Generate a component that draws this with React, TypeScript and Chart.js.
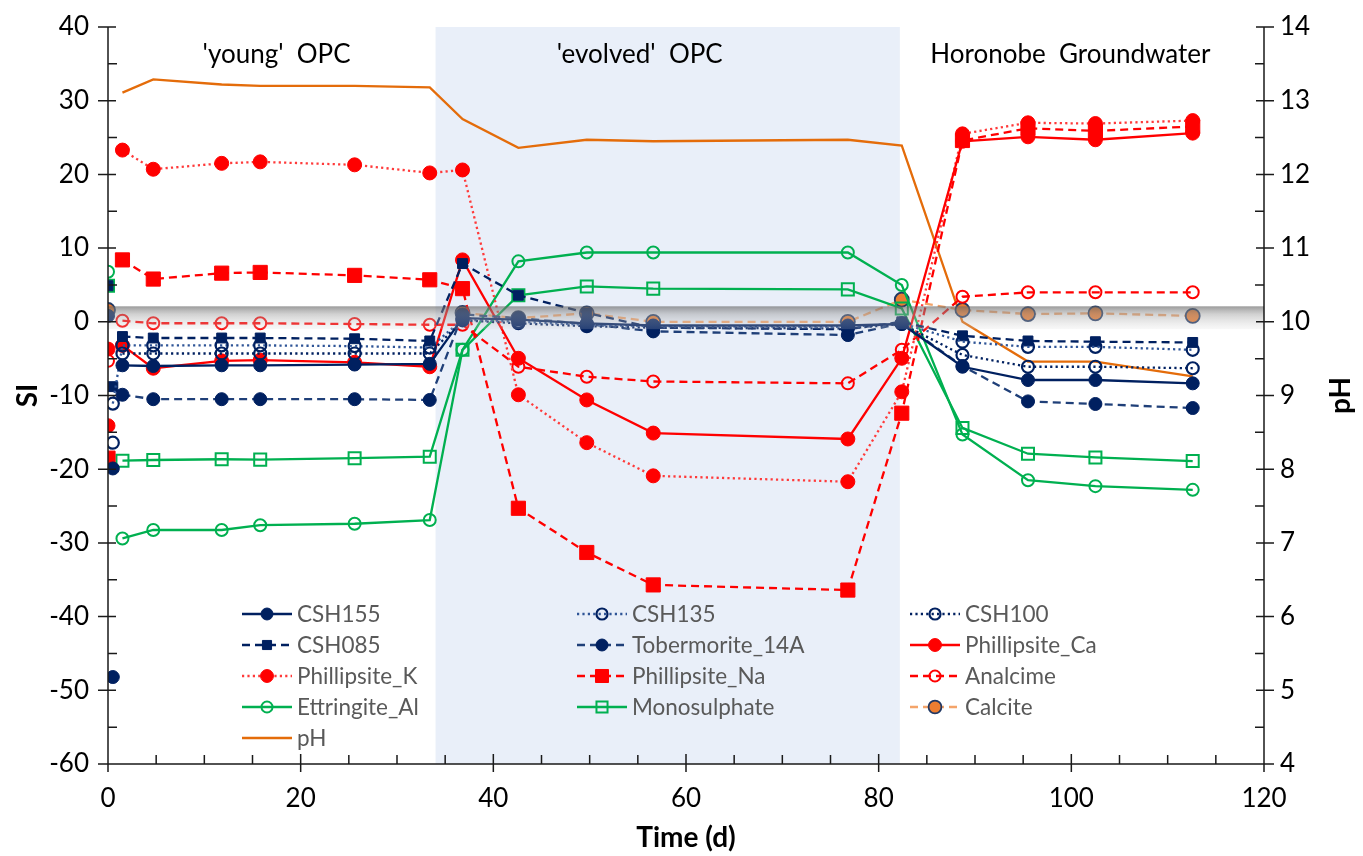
import React, { useEffect, useRef } from 'react';
import { Chart, registerables } from 'chart.js';

Chart.register(...registerables);

const FONT = 'Lato, "Open Sans", sans-serif';

// sampling times (days)
const times = [0, 0.5, 1.5, 4.7, 11.8, 15.8, 25.6, 33.4, 36.8, 42.6, 49.7, 56.6, 76.8, 82.4, 88.7, 95.5, 102.5, 112.6];

// saturation indices (SI)
const csh155 = [null, -19.9, -5.9, -6.0, -5.9, -5.9, -5.8, -5.7, 0.5, 0.3, -0.2, -0.5, -0.5, -0.3, -6.1, -7.9, -7.9, -8.35];
const csh135 = [null, -11.1, -3.2, -3.2, -3.2, -3.2, -3.3, -3.5, 0.3, 0.0, -0.4, -0.6, -0.7, -0.2, -2.7, -3.4, -3.4, -3.8];
const csh100 = [null, -16.4, -4.3, -4.3, -4.3, -4.3, -4.3, -4.3, 0.2, -0.2, -0.6, -0.8, -0.9, -0.3, -4.5, -6.1, -6.1, -6.3];
const csh085 = [4.9, -8.8, -2.0, -2.2, -2.2, -2.2, -2.3, -2.6, 7.9, 3.6, 1.2, -0.8, -1.0, 0.0, -1.9, -2.6, -2.7, -2.8];
const tobermorite14A = [0.8, -48.2, -9.9, -10.5, -10.5, -10.5, -10.5, -10.6, 1.0, 0.5, -0.3, -1.3, -1.8, -0.2, -6.0, -10.8, -11.15, -11.7];
const phillipsiteCa = [-3.7, null, -3.2, -6.3, -5.3, -5.2, -5.5, -6.1, 8.4, -4.95, -10.6, -15.1, -15.9, -4.95, 24.5, 25.1, 24.7, 25.6];
const phillipsiteK = [-14.1, null, 23.3, 20.7, 21.5, 21.7, 21.3, 20.2, 20.6, -9.9, -16.4, -20.9, -21.7, -9.5, 25.5, 27.0, 26.9, 27.3];
const phillipsiteNa = [-18.5, null, 8.4, 5.8, 6.6, 6.7, 6.3, 5.7, 4.5, -25.3, -31.3, -35.7, -36.4, -12.4, 24.6, 26.25, 25.9, 26.5];
const analcime = [-5.3, null, 0.15, -0.2, -0.2, -0.2, -0.3, -0.4, -0.4, -6.1, -7.45, -8.1, -8.35, -3.8, 3.4, 4.0, 4.0, 4.0];
const ettringiteAl = [6.8, null, -29.4, -28.25, -28.25, -27.6, -27.4, -26.9, -3.8, 8.2, 9.4, 9.4, 9.4, 5.0, -15.3, -21.5, -22.3, -22.8];
const monosulphate = [4.9, null, -18.85, -18.75, -18.65, -18.7, -18.5, -18.3, -3.8, 3.6, 4.8, 4.5, 4.4, 1.8, -14.4, -17.9, -18.4, -18.9];
const calcite = [1.6, null, null, null, null, null, null, null, 1.2, 0.5, 1.15, 0.0, 0.0, 3.0, 1.6, 1.05, 1.15, 0.8];
// pH (right axis)
const pH = [null, null, 13.11, 13.29, 13.22, 13.2, 13.2, 13.18, 12.75, 12.36, 12.47, 12.45, 12.47, 12.39, 10.0, 9.46, 9.46, 9.26];

// phases
const phaseLabels = ["'young'  OPC", "'evolved'  OPC", 'Horonobe  Groundwater'];
const phaseCenters = [17.5, 55.2, 99.9];
const evolvedRange = [34.0, 82.2];
const equilibriumBand = [-1.0, 2.1];

const NAVY = '#002060';
const NAVY2 = '#2F5597';
const RED = '#FF0000';
const GREEN = '#00B050';
const ORANGE = '#E46C0A';

const DOT = [2.2, 3.2];
const DASH = [8, 5];

const pts = (vals: (number | null)[]) => times.map((t, i) => ({ x: t, y: vals[i] }));

type S = {
  label: string; vals: (number | null)[]; color: string; line: string; dash: number[];
  style: string; fill: string; radius: number; bw: number; linkFrom: number; axis?: string;
};

const series: S[] = [
  { label: 'CSH155', vals: csh155, color: NAVY, line: NAVY, dash: [], style: 'circle', fill: NAVY, radius: 6.5, bw: 1, linkFrom: 1 },
  { label: 'CSH135', vals: csh135, color: NAVY, line: NAVY2, dash: DOT, style: 'circle', fill: 'rgba(0,0,0,0)', radius: 6, bw: 2.2, linkFrom: 0.25 },
  { label: 'CSH100', vals: csh100, color: NAVY, line: NAVY, dash: DOT, style: 'circle', fill: 'rgba(0,0,0,0)', radius: 6, bw: 2.2, linkFrom: 1 },
  { label: 'CSH085', vals: csh085, color: NAVY, line: NAVY, dash: DASH, style: 'rect', fill: NAVY, radius: 7, bw: 1, linkFrom: 1 },
  { label: 'Tobermorite_14A', vals: tobermorite14A, color: NAVY, line: '#1F3F78', dash: DASH, style: 'circle', fill: NAVY, radius: 6.5, bw: 1, linkFrom: 1 },
  { label: 'Phillipsite_Ca', vals: phillipsiteCa, color: RED, line: RED, dash: [], style: 'circle', fill: RED, radius: 7, bw: 1, linkFrom: 1 },
  { label: 'Phillipsite_K', vals: phillipsiteK, color: RED, line: '#FF3A3A', dash: DOT, style: 'circle', fill: RED, radius: 7, bw: 1, linkFrom: 1 },
  { label: 'Phillipsite_Na', vals: phillipsiteNa, color: RED, line: RED, dash: DASH, style: 'rect', fill: RED, radius: 10, bw: 1, linkFrom: 1 },
  { label: 'Analcime', vals: analcime, color: RED, line: RED, dash: DASH, style: 'circle', fill: 'rgba(0,0,0,0)', radius: 6, bw: 2, linkFrom: 1 },
  { label: 'Ettringite_Al', vals: ettringiteAl, color: GREEN, line: GREEN, dash: [], style: 'circle', fill: 'rgba(0,0,0,0)', radius: 6, bw: 2, linkFrom: 1 },
  { label: 'Monosulphate', vals: monosulphate, color: GREEN, line: GREEN, dash: [], style: 'rect', fill: 'rgba(0,0,0,0)', radius: 8.5, bw: 2, linkFrom: 1 },
  { label: 'Calcite', vals: calcite, color: '#203864', line: '#F4A46A', dash: DASH, style: 'circle', fill: '#ED7D31', radius: 7, bw: 1.8, linkFrom: 1 },
  { label: 'pH', vals: pH, color: ORANGE, line: ORANGE, dash: [], style: 'none', fill: ORANGE, radius: 0, bw: 0, linkFrom: 0, axis: 'y2' },
];

const legendCols = [242, 577, 910];
const legendRows = [614, 645, 676, 707, 738];

function drawMarker(ctx: CanvasRenderingContext2D, style: string, x: number, y: number, r: number, fill: string, stroke: string, bw: number) {
  if (style === 'none' || r <= 0) return;
  ctx.save();
  ctx.setLineDash([]);
  ctx.beginPath();
  if (style === 'rect') {
    const s = r * Math.SQRT1_2;
    ctx.rect(x - s, y - s, 2 * s, 2 * s);
  } else {
    ctx.arc(x, y, r, 0, Math.PI * 2);
  }
  ctx.fillStyle = fill;
  ctx.fill();
  ctx.lineWidth = bw;
  ctx.strokeStyle = stroke;
  ctx.stroke();
  ctx.restore();
}

const overlayPlugin = {
  id: 'overlay',
  beforeDatasetsDraw(chart: any) {
    const { ctx, chartArea, scales } = chart;
    const x1 = scales.x.getPixelForValue(evolvedRange[0]);
    const x2 = scales.x.getPixelForValue(evolvedRange[1]);
    ctx.save();
    ctx.fillStyle = '#E9EFF9';
    ctx.fillRect(x1, chartArea.top, x2 - x1, chartArea.bottom - chartArea.top);
    ctx.restore();
  },
  afterDatasetsDraw(chart: any) {
    const { ctx, chartArea, scales } = chart;
    const { left, right, top, bottom } = chartArea;
    ctx.save();
    // equilibrium band
    const yT = scales.y.getPixelForValue(equilibriumBand[1]);
    const yB = scales.y.getPixelForValue(equilibriumBand[0]);
    const g = ctx.createLinearGradient(0, yT, 0, yB);
    g.addColorStop(0, 'rgba(100,100,100,0.65)');
    g.addColorStop(0.35, 'rgba(155,155,155,0.45)');
    g.addColorStop(1, 'rgba(215,215,215,0.18)');
    ctx.fillStyle = g;
    ctx.fillRect(left, yT, right - left, yB - yT);

    // axes
    ctx.strokeStyle = '#1a1a1a';
    ctx.lineWidth = 1.5;
    ctx.setLineDash([]);
    ctx.beginPath();
    ctx.moveTo(left, top); ctx.lineTo(left, bottom);
    ctx.moveTo(right, top); ctx.lineTo(right, bottom);
    ctx.moveTo(left, bottom); ctx.lineTo(right, bottom);
    for (let v = 0; v <= 120; v += 5) {
      const px = scales.x.getPixelForValue(v);
      if (v % 20 === 0) { ctx.moveTo(px, bottom - 10); ctx.lineTo(px, bottom + 8); }
      else { ctx.moveTo(px, bottom - 9); ctx.lineTo(px, bottom); }
    }
    for (let v = -60; v <= 40; v += 5) {
      const py = scales.y.getPixelForValue(v);
      if (v % 10 === 0) { ctx.moveTo(left - 10, py); ctx.lineTo(left + 8, py); }
      else { ctx.moveTo(left, py); ctx.lineTo(left + 9, py); }
    }
    for (let v = 4; v <= 14; v += 0.5) {
      const py = scales.y2.getPixelForValue(v);
      if (Number.isInteger(v)) { ctx.moveTo(right - 8, py); ctx.lineTo(right + 10, py); }
      else { ctx.moveTo(right - 9, py); ctx.lineTo(right, py); }
    }
    ctx.stroke();

    // axis titles
    ctx.fillStyle = '#000';
    ctx.font = `bold 28px ${FONT}`;
    ctx.textAlign = 'center';
    ctx.textBaseline = 'middle';
    const midY = (top + bottom) / 2;
    ctx.save(); ctx.translate(28, midY); ctx.rotate(-Math.PI / 2); ctx.fillText('SI', 0, 0); ctx.restore();
    ctx.save(); ctx.translate(1341, midY); ctx.rotate(-Math.PI / 2); ctx.fillText('pH', 0, 0); ctx.restore();
    ctx.fillText('Time (d)', (left + right) / 2, 838);

    // phase labels
    ctx.font = `26px ${FONT}`;
    phaseLabels.forEach((t, i) => {
      ctx.fillText(t, scales.x.getPixelForValue(phaseCenters[i]), 55);
    });

    // legend
    ctx.font = `22.5px ${FONT}`;
    ctx.textAlign = 'left';
    chart.data.datasets.forEach((ds: any, i: number) => {
      const s = series[i];
      const col = i % 3, row = Math.floor(i / 3);
      const x0 = legendCols[col];
      const y0 = legendRows[row];
      ctx.save();
      ctx.strokeStyle = s.line;
      ctx.lineWidth = 2.4;
      ctx.setLineDash(s.dash);
      ctx.beginPath(); ctx.moveTo(x0, y0); ctx.lineTo(x0 + 50, y0); ctx.stroke();
      ctx.restore();
      drawMarker(ctx, s.style, x0 + 25, y0, s.radius * 0.92, s.fill, s.color, s.bw);
      ctx.fillStyle = '#595959';
      ctx.textBaseline = 'middle';
      ctx.fillText(ds.label, x0 + 55, y0 + 1);
    });
    ctx.restore();
  },
};

const fixVertical = (w: number) => (s: any) => {
  s.width = w;
  s.paddingTop = 0;
  s.paddingBottom = 0;
};

export default function App() {
  const ref = useRef<HTMLCanvasElement | null>(null);
  useEffect(() => {
    if (!ref.current) return;
    const datasets = series.map((s) => ({
      label: s.label,
      data: pts(s.vals),
      yAxisID: s.axis || 'y',
      borderColor: s.line,
      borderWidth: 2.3,
      borderDash: s.dash,
      borderCapStyle: 'butt',
      pointStyle: s.style === 'none' ? false : s.style,
      pointRadius: s.radius,
      pointHoverRadius: s.radius,
      pointBackgroundColor: s.fill,
      pointBorderColor: s.color,
      pointBorderWidth: s.bw,
      fill: false,
      tension: 0,
      spanGaps: false,
      segment: {
        borderColor: (ctx: any) => (ctx.p0.parsed.x < s.linkFrom ? 'rgba(0,0,0,0)' : undefined),
      },
    }));
    const tickFont = { family: FONT, size: 26 };
    const chart = new Chart(ref.current, {
      type: 'line',
      data: { datasets } as any,
      options: {
        animation: false,
        responsive: false,
        layout: { padding: { top: 27, left: 0, right: 0, bottom: 0 } },
        plugins: { legend: { display: false }, tooltip: { enabled: false } },
        scales: {
          x: {
            type: 'linear', min: 0, max: 120,
            ticks: { stepSize: 20, font: tickFont, color: '#000', padding: 19, maxRotation: 0 },
            grid: { display: false, drawTicks: false },
            border: { display: false },
            afterFit: (s: any) => { s.height = 92; s.paddingLeft = 0; s.paddingRight = 0; },
          },
          y: {
            type: 'linear', position: 'left', min: -60, max: 40,
            ticks: { stepSize: 10, font: tickFont, color: '#000', padding: 19 },
            grid: { display: false, drawTicks: false },
            border: { display: false },
            afterFit: fixVertical(108),
          },
          y2: {
            type: 'linear', position: 'right', min: 4, max: 14,
            ticks: { stepSize: 1, font: tickFont, color: '#000', padding: 16 },
            grid: { display: false, drawTicks: false },
            border: { display: false },
            afterFit: fixVertical(99),
          },
        },
      } as any,
      plugins: [overlayPlugin],
    });
    return () => chart.destroy();
  }, []);
  return (
    <div style={{ position: 'absolute', left: 0, top: 0, width: 1363, height: 856, background: '#fff' }}>
      <canvas ref={ref} width={1363} height={856} style={{ display: 'block' }} />
    </div>
  );
}
